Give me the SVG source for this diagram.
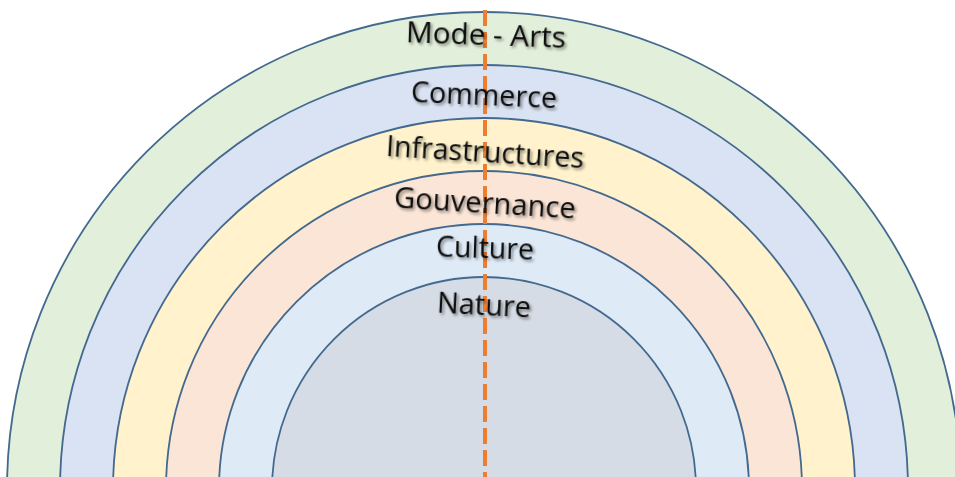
<svg xmlns="http://www.w3.org/2000/svg" width="955" height="477" viewBox="0 0 955 477">
  <defs>
    <filter id="sh" x="-10%" y="-30%" width="120%" height="160%">
      <feGaussianBlur in="SourceAlpha" stdDeviation="1.6"/>
      <feOffset dx="1.5" dy="2" result="b"/>
      <feComponentTransfer><feFuncA type="linear" slope="0.45"/></feComponentTransfer>
      <feMerge><feMergeNode/><feMergeNode in="SourceGraphic"/></feMerge>
    </filter>
  </defs>
  <style>
    .ring { stroke: #43698E; stroke-width: 1.8; }
    .lbl { font-family: "Open Sans", "Liberation Sans", sans-serif; font-size: 29px; fill: #0a0a0a; text-anchor: middle; filter: url(#sh); }
    .axis { stroke: #ED7D31; stroke-width: 4; stroke-dasharray: 16 6; fill: none; }
  </style>
  <rect width="955" height="477" fill="#ffffff"/>
  <g id="mode-arts"><circle class="ring" cx="484" cy="489" r="477" fill="#E2EFDA"/></g>
  <g id="commerce"><circle class="ring" cx="484" cy="489" r="424" fill="#DAE3F3"/></g>
  <g id="infrastructures"><circle class="ring" cx="484" cy="489" r="371" fill="#FFF2CC"/></g>
  <g id="gouvernance"><circle class="ring" cx="484" cy="489" r="318" fill="#FBE5D6"/></g>
  <g id="culture"><circle class="ring" cx="484" cy="489" r="265" fill="#DEEBF7"/></g>
  <g id="nature"><circle class="ring" cx="484" cy="489" r="212" fill="#D6DCE5"/></g>
  <g id="connectors">
    <line class="axis" x1="485" y1="10" x2="485" y2="477"/>
  </g>
  <g id="labels">
    <text class="lbl" x="486" y="45" transform="rotate(2 486 35)" textLength="160" lengthAdjust="spacingAndGlyphs">Mode - Arts</text>
    <text class="lbl" x="484" y="105" transform="rotate(2.5 484 95)" textLength="146" lengthAdjust="spacingAndGlyphs">Commerce</text>
    <text class="lbl" x="485" y="162" transform="rotate(3.5 485 152)" textLength="198" lengthAdjust="spacingAndGlyphs">Infrastructures</text>
    <text class="lbl" x="485" y="213" transform="rotate(3.5 485 203)" textLength="182" lengthAdjust="spacingAndGlyphs">Gouvernance</text>
    <text class="lbl" x="485" y="258" transform="rotate(2 485 248)" textLength="98" lengthAdjust="spacingAndGlyphs">Culture</text>
    <text class="lbl" x="484" y="315" transform="rotate(3 484 305)" textLength="94" lengthAdjust="spacingAndGlyphs">Nature</text>
  </g>
</svg>
